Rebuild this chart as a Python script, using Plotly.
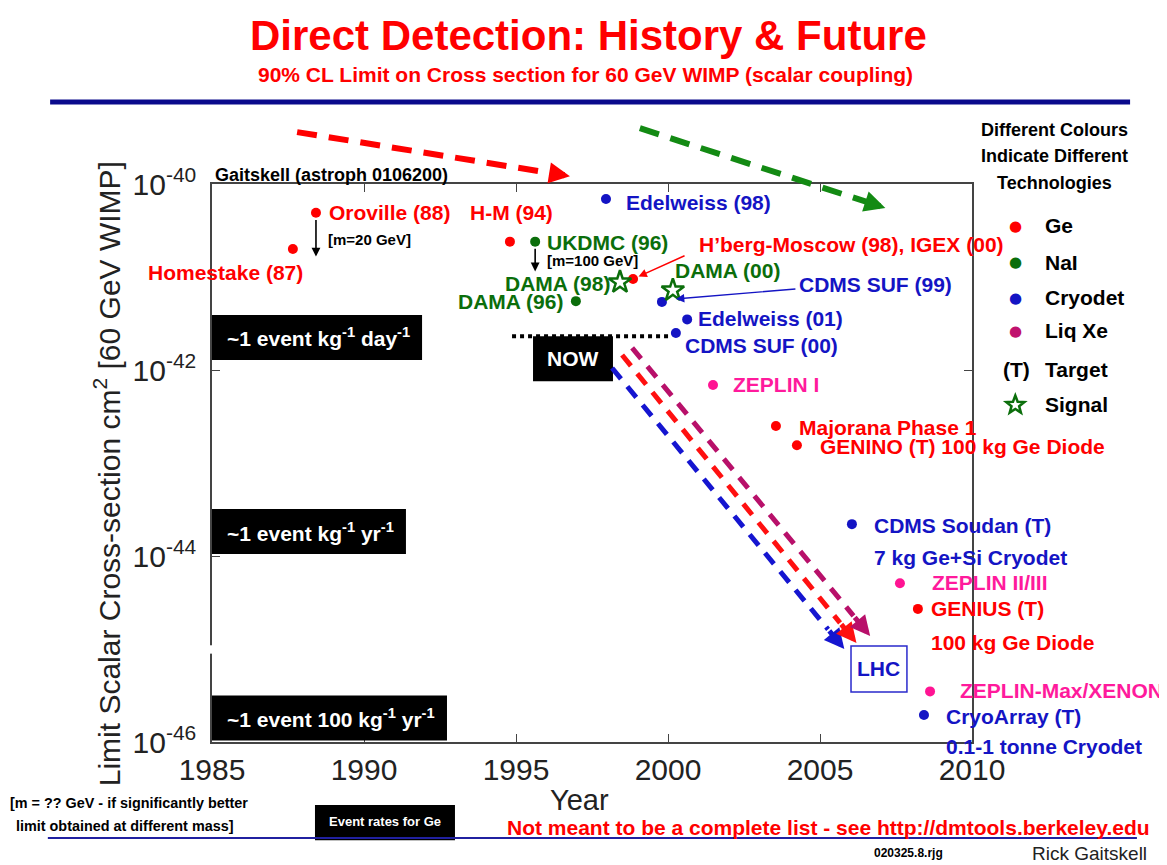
import math
import plotly.graph_objects as go

# ---------------- data ----------------
ge_names = ["Homestake (87)", "Oroville (88)", "H-M (94)", "H\u2019berg-Moscow (98), IGEX (00)",
            "Majorana Phase 1", "GENINO (T) 100 kg Ge Diode", "GENIUS (T)"]
ge_years = [1987.66, 1988.42, 1994.80, 1998.85, 2003.55, 2004.24, 2008.22]
ge_sigma = [2.0e-41, 4.9e-41, 2.4e-41, 9.5e-42, 2.5e-43, 1.55e-43, 2.7e-45]

nai_names = ["UKDMC (96)", "DAMA (96)"]
nai_years = [1995.63, 1996.97]
nai_sigma = [2.4e-41, 5.5e-42]

cryo_names = ["Edelweiss (98)", "CDMS SUF (99)", "Edelweiss (01)", "CDMS SUF (00)",
              "CDMS Soudan (T)", "CryoArray (T)"]
cryo_years = [1997.96, 1999.80, 2000.63, 2000.26, 2006.05, 2008.42]
cryo_sigma = [6.9e-41, 5.4e-42, 3.5e-42, 2.5e-42, 2.2e-44, 1.95e-46]

xe_names = ["ZEPLIN I", "ZEPLIN II/III", "ZEPLIN-Max/XENON"]
xe_years = [2001.48, 2007.63, 2008.62]
xe_sigma = [6.9e-43, 5.1e-45, 3.5e-46]

signal_names = ["DAMA (98)", "DAMA (00)"]
signal_years = [1998.42, 2000.16]
signal_sigma = [8.8e-42, 7.2e-42]

# limits quoted at another WIMP mass (arrow drop, decades)
mass_names = ["Oroville (88)", "UKDMC (96)"]
mass_notes = ["[m=20 GeV]", "[m=100 GeV]"]
mass_drop = [0.47, 0.32]

# event-rate levels for Ge
event_labels = ["~1 event kg<sup>-1</sup> day<sup>-1</sup>",
                "~1 event kg<sup>-1</sup> yr<sup>-1</sup>",
                "~1 event 100 kg<sup>-1</sup> yr<sup>-1</sup>"]
event_sigma = [2.24e-42, 1.83e-44, 1.81e-46]
event_box_end = [1991.91, 1991.38, 1992.73]

# "NOW" level
now_sigma = 2.3e-42
now_years = [1994.87, 2000.07]

# projected trend arrows
trend_colors = ["#1515d0", "#ff1010", "#b8106a"]
trend_start_years = [1998.16, 1998.49, 1998.82]
trend_start_sigma = [1.05e-42, 1.45e-42, 1.73e-42]
trend_end_years = [2005.8, 2006.2, 2006.65]
trend_end_sigma = [1.0e-45, 1.16e-45, 1.38e-45]

# LHC region
lhc_years = [2006.02, 2007.86]
lhc_sigma = [1.08e-45, 3.45e-46]

# legend entries
legend_names = ["Ge", "NaI", "Cryodet", "Liq Xe"]

# ---------------- styling ----------------
NARROW = "Liberation Sans Narrow, Arial Narrow, Liberation Sans, Arial, sans-serif"
SANS = "Liberation Sans, Arial, sans-serif"
RED = "#ff0000"
GREEN = "#0b6e0b"
BLUE = "#1414c4"
PINK = "#ff1a9c"
PURPLE = "#c0126e"
PLOT_W, PLOT_H = 760, 558
XR = [1985, 2010]
YR = [-46, -40]

label_pos = {
    "Homestake (87)": ("right", 12, -23),
    "Oroville (88)": ("left", 11, 0),
    "H-M (94)": ("center", 2, 29),
    "H\u2019berg-Moscow (98), IGEX (00)": ("left", 64, 35),
    "Majorana Phase 1": ("left", 21, -2),
    "GENINO (T) 100 kg Ge Diode": ("left", 21, -1),
    "GENIUS (T)": ("left", 11, 0),
    "UKDMC (96)": ("left", 10, -1),
    "DAMA (96)": ("right", -11, 0),
    "Edelweiss (98)": ("left", 18, -4),
    "CDMS SUF (99)": ("left", 135, 17),
    "Edelweiss (01)": ("left", 9, 1),
    "CDMS SUF (00)": ("left", 7, -13),
    "CDMS Soudan (T)": ("left", 20, -1),
    "CryoArray (T)": ("left", 20, -1),
    "ZEPLIN I": ("left", 18, 0),
    "ZEPLIN II/III": ("left", 30, 1),
    "ZEPLIN-Max/XENON": ("left", 28, 1),
    "DAMA (98)": ("right", -8, -1),
    "DAMA (00)": ("left", 0, 20),
}
second_lines = {
    "CDMS Soudan (T)": ("7 kg Ge+Si Cryodet", 20, -33),
    "GENIUS (T)": ("100 kg Ge Diode", 11, -34),
    "CryoArray (T)": ("0.1-1 tonne Cryodet", 20, -31),
}

fig = go.Figure()
ann = []
shapes = []

groups = [
    (ge_names, ge_years, ge_sigma, RED, RED, "circle", 10),
    (nai_names, nai_years, nai_sigma, GREEN, GREEN, "circle", 10),
    (cryo_names, cryo_years, cryo_sigma, BLUE, BLUE, "circle", 10),
    (xe_names, xe_years, xe_sigma, "#ff1493", PINK, "circle", 10),
    (signal_names, signal_years, signal_sigma, GREEN, GREEN, "star-open", 17),
]
for names, yrs, sig, mcol, tcol, sym, size in groups:
    fig.add_trace(go.Scatter(
        x=yrs, y=sig, mode="markers", name=names[0], hoverinfo="skip",
        marker=dict(color=mcol, size=size, symbol=sym, line=dict(width=2.5 if "open" in sym else 0, color=mcol)),
        cliponaxis=False))
    for n, x, s in zip(names, yrs, sig):
        xa, xs, ys = label_pos[n]
        ann.append(dict(x=x, y=math.log10(s), xref="x", yref="y", text=n, showarrow=False,
                        xanchor=xa, yanchor="middle", xshift=xs, yshift=ys,
                        font=dict(family=NARROW, size=21, color=tcol, weight="bold")))
        if n in second_lines:
            t2, xs2, ys2 = second_lines[n]
            ann.append(dict(x=x, y=math.log10(s), xref="x", yref="y", text=t2, showarrow=False,
                            xanchor="left", yanchor="middle", xshift=xs2, yshift=ys2,
                            font=dict(family=NARROW, size=21, color=tcol, weight="bold")))

# mass arrows
all_names = ge_names + nai_names
all_years = ge_years + nai_years
all_sigma = ge_sigma + nai_sigma
for n, note, drop in zip(mass_names, mass_notes, mass_drop):
    i = all_names.index(n)
    lx, ly = all_years[i], math.log10(all_sigma[i])
    ann.append(dict(x=lx, y=ly - drop, ax=lx, ay=ly - 0.06, xref="x", yref="y", axref="x", ayref="y",
                    text="", showarrow=True, arrowhead=2, arrowsize=1.1, arrowwidth=1.6, arrowcolor="black"))
    ann.append(dict(x=lx, y=ly - drop * 0.62, xref="x", yref="y", text=note, showarrow=False,
                    xanchor="left", yanchor="middle", xshift=10,
                    font=dict(family=NARROW, size=15, color="black", weight="bold")))

# pointer arrows
i = ge_names.index("H\u2019berg-Moscow (98), IGEX (00)")
ann.append(dict(x=ge_years[i], y=math.log10(ge_sigma[i]), xref="x", yref="y", text="", showarrow=True,
                ax=53, ay=-24, standoff=6, arrowhead=2, arrowsize=1.2, arrowwidth=1.4, arrowcolor=RED))
i = cryo_names.index("CDMS SUF (99)")
ann.append(dict(x=cryo_years[i], y=math.log10(cryo_sigma[i]), xref="x", yref="y", text="", showarrow=True,
                xshift=14, yshift=3, ax=121, ay=-10, arrowhead=2, arrowsize=1.2, arrowwidth=1.4, arrowcolor=BLUE))

# event-rate boxes
half = 0.242
for lab, s, xe in zip(event_labels, event_sigma, event_box_end):
    shapes.append(dict(type="rect", xref="x", yref="y", x0=1985, x1=xe,
                       y0=s * 10 ** -half, y1=s * 10 ** half, fillcolor="black", line=dict(width=0), layer="above"))
    ann.append(dict(x=1985, y=math.log10(s), xref="x", yref="y", text=lab, showarrow=False,
                    xanchor="left", yanchor="middle", xshift=13,
                    font=dict(family=NARROW, size=21, color="white", weight="bold")))

# NOW level and box
fig.add_trace(go.Scatter(x=now_years, y=[now_sigma, now_sigma], mode="lines", hoverinfo="skip",
                         line=dict(color="black", width=4, dash="dot")))
shapes.append(dict(type="rect", xref="x", yref="y", x0=1995.56, x1=1998.19,
                   y0=now_sigma / 10 ** 0.484, y1=now_sigma, fillcolor="black", line=dict(width=0), layer="above"))
ann.append(dict(x=(1995.56 + 1998.19) / 2, y=math.log10(now_sigma) - 0.242, xref="x", yref="y", text="NOW",
                showarrow=False, font=dict(family=NARROW, size=21, color="white", weight="bold")))

# trend arrows
for c, xs, ss, xe, se in zip(trend_colors, trend_start_years, trend_start_sigma, trend_end_years, trend_end_sigma):
    f = 0.93
    tx = xs + (xe - xs) * f
    tl = math.log10(ss) + (math.log10(se) - math.log10(ss)) * f
    shapes.append(dict(type="line", xref="x", yref="y", x0=xs, y0=ss, x1=tx, y1=10 ** tl,
                       line=dict(color=c, width=5, dash="14px,10px")))
    ann.append(dict(x=xe, y=math.log10(se), ax=tx, ay=tl, xref="x", yref="y", axref="x", ayref="y",
                    text="", showarrow=True, arrowhead=2, arrowsize=0.8, arrowwidth=5, arrowcolor=c))

# LHC box
shapes.append(dict(type="rect", xref="x", yref="y", x0=lhc_years[0], x1=lhc_years[1],
                   y0=lhc_sigma[1], y1=lhc_sigma[0], line=dict(color="#2a2acc", width=1.5)))
ann.append(dict(x=sum(lhc_years) / 2, y=(math.log10(lhc_sigma[0]) + math.log10(lhc_sigma[1])) / 2,
                xref="x", yref="y", text="LHC", showarrow=False,
                font=dict(family=NARROW, size=21, color=BLUE, weight="bold")))

# break in left axis
shapes.append(dict(type="line", xref="paper", yref="y", x0=0, x1=0, y0=10 ** -44.96, y1=10 ** -45.05,
                   line=dict(color="white", width=5), layer="above"))

# top decorative arrows (paper coords)
top_arrows = [(RED, 0.112, 1.093, 0.471, 1.014), ("#138a13", 0.563, 1.100, 0.886, 0.957)]
for c, x0, y0, x1, y1 in top_arrows:
    f = 0.94
    tx, ty = x0 + (x1 - x0) * f, y0 + (y1 - y0) * f
    shapes.append(dict(type="line", xref="paper", yref="paper", x0=x0, y0=y0, x1=tx, y1=ty,
                       line=dict(color=c, width=6, dash="20px,12px")))
    ann.append(dict(x=x1, y=y1, ax=(tx - x1) * PLOT_W, ay=-(ty - y1) * PLOT_H, xref="paper", yref="paper",
                    text="", showarrow=True, arrowhead=2, arrowsize=0.7, arrowwidth=6, arrowcolor=c))

# titles and page text
def ptext(x, y, text, size, color="black", bold=True, family=NARROW, xanchor="center", angle=0):
    ann.append(dict(x=x, y=y, xref="paper", yref="paper", text=text, showarrow=False, xanchor=xanchor,
                    yanchor="middle", textangle=angle,
                    font=dict(family=family, size=size, color=color, weight="bold" if bold else "normal")))

ptext(0.495, 1.267, "Direct Detection: History &amp; Future", 42, RED)
ptext(0.492, 1.197, "90% CL Limit on Cross section for 60 GeV WIMP (scalar coupling)", 21, RED)
shapes.append(dict(type="line", xref="paper", yref="paper", x0=-0.213, x1=1.208, y0=1.147, y1=1.147,
                   line=dict(color="#0a0a8c", width=5)))
ptext(0.001, 1.016, "Gaitskell (astroph 0106200)", 18, xanchor="left")
ptext(-0.138, 0.48, "Limit Scalar Cross-section cm<sup>2</sup> [60 GeV WIMP]", 30, "#222", bold=False,
      family=SANS, angle=-90)
ptext(0.484, -0.104, "Year", 29, "#222", bold=False, family=SANS)

# legend block
ptext(1.109, 1.097, "Different Colours", 18)
ptext(1.109, 1.050, "Indicate Different", 18)
ptext(1.109, 1.002, "Technologies", 18)
leg_colors = [RED, GREEN, BLUE, PURPLE]
leg_y = [0.925, 0.860, 0.796, 0.737]
for t, c, yy in zip(legend_names, leg_colors, leg_y):
    ptext(1.057, yy, "\u25cf", 15, c, bold=False, family="DejaVu Sans")
    ptext(1.093, yy, t, 21, xanchor="left")
ptext(1.059, 0.667, "(T)", 21)
ptext(1.093, 0.667, "Target", 21, xanchor="left")
# open star symbol for "Signal" drawn as a path
cx, cy, ro, ri = 1.057, 0.604, 9.5, 4.0
pts = []
for k in range(10):
    r = ro if k % 2 == 0 else ri
    a = math.pi / 2 + k * math.pi / 5
    pts.append((cx + r * math.cos(a) / PLOT_W, cy + r * math.sin(a) / PLOT_H))
path = "M " + " L ".join(f"{px:.5f},{py:.5f}" for px, py in pts) + " Z"
shapes.append(dict(type="path", xref="paper", yref="paper", path=path, line=dict(color=GREEN, width=2.5)))
ptext(1.093, 0.604, "Signal", 21, xanchor="left")

# bottom notes
ptext(-0.268, -0.109, "[m = ?? GeV - if significantly better", 14.4, xanchor="left")
ptext(-0.260, -0.151, "limit obtained at different mass]", 14.4, xanchor="left")
shapes.append(dict(type="rect", xref="paper", yref="paper", x0=0.1355, x1=0.3197, y0=-0.176, y1=-0.113,
                   fillcolor="black", line=dict(width=0)))
ptext(0.2276, -0.143, "Event rates for Ge", 13, "white")
shapes.append(dict(type="line", xref="paper", yref="paper", x0=-0.216, x1=1.217, y0=-0.172, y1=-0.172,
                   line=dict(color="#2020a0", width=2)))
ptext(0.3855, -0.154, "Not meant to be a complete list - see http://dmtools.berkeley.edu", 21, RED,
      xanchor="left")
ptext(0.917, -0.199, "020325.8.rjg", 12)
ptext(1.154, -0.199, "Rick Gaitskell", 19, "#222", bold=False, family=SANS)

# page body adds an 8px margin, so the figure is 8px smaller and shifted accordingly
fig.update_layout(
    width=1159, height=857,
    margin=dict(l=204, r=195, t=176, b=123),
    paper_bgcolor="white", plot_bgcolor="white",
    showlegend=False, hovermode=False,
    annotations=ann, shapes=shapes,
    xaxis=dict(range=XR, dtick=5, tick0=1985, ticks="inside", ticklen=8, tickwidth=1,
               showline=True, linecolor="#444", linewidth=1.5, mirror="ticks", showgrid=False,
               zeroline=False, tickfont=dict(family=SANS, size=30, color="#222"), ticklabelstandoff=0),
    yaxis=dict(type="log", range=YR, tickvals=[1e-46, 1e-44, 1e-42, 1e-40],
               ticktext=["10<sup>-46</sup>", "10<sup>-44</sup>", "10<sup>-42</sup>", "10<sup>-40</sup>"],
               ticks="inside", ticklen=8, tickwidth=1, showline=True, linecolor="#444", linewidth=1.5,
               mirror="ticks", showgrid=False, zeroline=False,
               tickfont=dict(family=SANS, size=30, color="#222"), ticklabelstandoff=8),
)

fig.write_html("out.html")
